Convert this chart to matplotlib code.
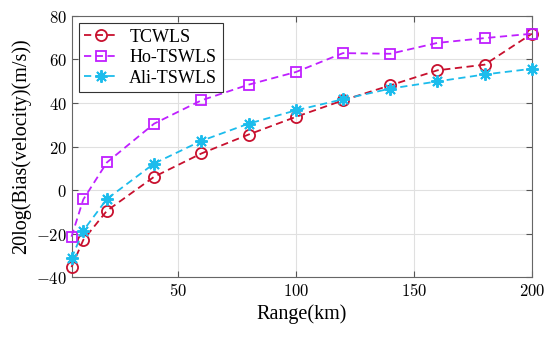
import numpy as np
import matplotlib
matplotlib.use('Agg')
import matplotlib.pyplot as plt

# datos
rango = [5, 10, 20, 40, 60, 80, 100, 120, 140, 160, 180, 200]
tcwls = [-35.4, -22.9, -9.5, 6.1, 16.8, 25.5, 33.6, 41.2, 48.1, 55.0, 57.6, 71.8]
ho_tswls = [-21.4, -4.3, 12.7, 30.5, 41.2, 48.4, 54.2, 62.9, 62.6, 67.6, 69.8, 71.8]
ali_tswls = [-31.3, -18.6, -4.1, 12.2, 22.6, 30.5, 36.6, 41.7, 46.6, 49.9, 53.1, 55.7]

xticks = [50, 100, 150, 200]
yticks = [-40, -20, 0, 20, 40, 60, 80]

plt.rcParams['mathtext.fontset'] = 'cm'
plt.rcParams['axes.formatter.use_mathtext'] = True

fig, ax = plt.subplots(figsize=(5.5, 3.38), dpi=100)
fig.subplots_adjust(left=0.13, right=0.967, top=0.953, bottom=0.18)

estilo = dict(ls=(0, (4, 2.5)), lw=1.3, clip_on=False, zorder=3)
ax.plot(rango, tcwls, marker='o', color='#C8102E', mfc='none', ms=8, mew=1.3, label='TCWLS', **estilo)
ax.plot(rango, ho_tswls, marker='s', color='#BF1FFF', mfc='none', ms=7, mew=1.3, label='Ho-TSWLS', **estilo)
ax.plot(rango, ali_tswls, marker=(8, 2, 0), color='#1CBCEC', ms=9, mew=1.4, label='Ali-TSWLS', **estilo)

ax.set_xlim(5, 200)
ax.set_ylim(-40, 80)
ax.set_xticks(xticks)
ax.set_yticks(yticks)
ax.set_xticklabels(['$%d$' % t for t in xticks], fontsize=12)
ax.set_yticklabels(['$%d$' % t for t in yticks], fontsize=12)
ax.tick_params(direction='in', top=True, right=True, length=4, color='#555555')
ax.grid(True, color='#E0E0E0', lw=0.8)
ax.set_axisbelow(True)
for s in ax.spines.values():
    s.set_color('#666666')

serif = {'family': 'Liberation Serif', 'size': 14.5}
ax.set_xlabel('Range(km)', fontdict=serif, labelpad=3)
ax.set_ylabel('20log(Bias(velocity)(m/s))', fontdict=serif, labelpad=3)

leg = ax.legend(loc='upper left', prop={'family': 'Liberation Serif', 'size': 13},
                fancybox=False, edgecolor='#333333', framealpha=1,
                handlelength=1.9, handletextpad=0.6, borderpad=0.3,
                labelspacing=0.2, borderaxespad=0.4)
leg.get_frame().set_linewidth(0.8)

plt.savefig('out.png', dpi=100)
